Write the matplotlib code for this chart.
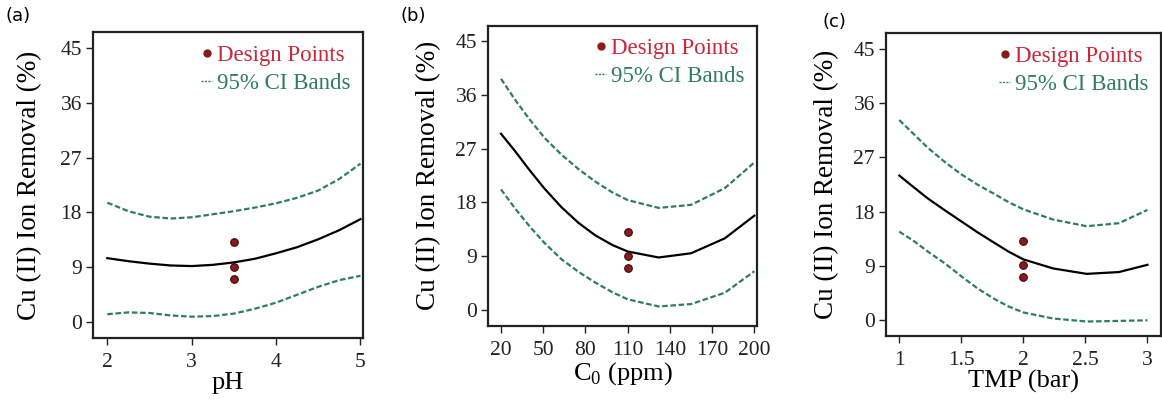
import matplotlib
matplotlib.use("Agg")
import matplotlib.pyplot as plt
from matplotlib.lines import Line2D

plt.rcParams["font.family"] = ["Liberation Serif", "DejaVu Serif"]
plt.rcParams["mathtext.fontset"] = "custom"
plt.rcParams["mathtext.rm"] = "Liberation Serif"

# -----------------------------
# Data
# -----------------------------
ph = [2, 2.25, 2.5, 2.75, 3, 3.25, 3.5, 3.75, 4, 4.25, 4.5, 4.75, 5]
ph_fit = [10.5, 10.0, 9.6, 9.3, 9.2, 9.4, 9.8, 10.4, 11.3, 12.3, 13.6, 15.1, 16.9]
ph_upper = [19.6, 18.2, 17.3, 17.0, 17.2, 17.7, 18.2, 18.8, 19.5, 20.4, 21.6, 23.5, 26.0]
ph_lower = [1.3, 1.6, 1.5, 1.1, 0.9, 1.0, 1.4, 2.2, 3.2, 4.5, 5.8, 6.9, 7.6]

c0 = [20, 30, 40, 51, 63, 75, 87, 99, 110, 132, 155, 179, 200]
c0_fit = [29.5, 26.6, 23.5, 20.3, 17.2, 14.6, 12.5, 10.9, 9.8, 8.8, 9.5, 12.0, 15.8]
c0_upper = [38.7, 35.2, 32.0, 28.8, 26.0, 23.6, 21.5, 19.7, 18.4, 17.1, 17.6, 20.4, 24.7]
c0_lower = [20.2, 17.0, 14.1, 11.2, 8.5, 6.4, 4.6, 3.0, 1.8, 0.6, 1.0, 2.9, 6.5]

tmp = [1, 1.12, 1.23, 1.37, 1.5, 1.63, 1.77, 1.88, 2.0, 2.24, 2.51, 2.77, 3.0]
tmp_fit = [24.0, 22.0, 20.2, 18.2, 16.4, 14.6, 12.8, 11.4, 10.1, 8.6, 7.7, 8.0, 9.2]
tmp_upper = [33.2, 30.8, 28.6, 26.2, 24.2, 22.5, 20.9, 19.6, 18.4, 16.7, 15.6, 16.1, 18.3]
tmp_lower = [14.7, 13.1, 11.4, 9.4, 7.3, 5.3, 3.5, 2.3, 1.3, 0.3, -0.2, -0.1, 0.0]

design_y = [13.1, 9.1, 7.1]
design_x = {"a": 3.5, "b": 110, "c": 2}

yticks = [0, 9, 18, 27, 36, 45]

panels = [
    ("(a)", ph, ph_fit, ph_upper, ph_lower, design_x["a"], "pH",
     [2, 3, 4, 5], (1.83, 5.03), [0.080, 0.155, 0.2324, 0.765]),
    ("(b)", c0, c0_fit, c0_upper, c0_lower, design_x["b"], r"C$_\mathregular{0}$ (ppm)",
     [20, 50, 80, 110, 140, 170, 200], (10.8, 201.9), [0.420, 0.186, 0.2315, 0.750]),
    ("(c)", tmp, tmp_fit, tmp_upper, tmp_lower, design_x["c"], "TMP (bar)",
     [1, 1.5, 2, 2.5, 3], (0.893, 3.11), [0.7625, 0.160, 0.2367, 0.757]),
]

red_pt = "#8b1a1a"
red_txt = "#c8283a"
green = "#2e7d5b"

fig = plt.figure(figsize=(11.62, 4), dpi=100)

for tag, x, fit, up, lo, dx, xlabel, xticks, xlim, pos in panels:
    ax = fig.add_axes(pos)
    ax.plot(x, fit, color="black", lw=1.6)
    ax.plot(x, up, color=green, lw=1.6, ls=(0, (2.5, 1.2)))
    ax.plot(x, lo, color=green, lw=1.6, ls=(0, (2.5, 1.2)))
    ax.scatter([dx] * len(design_y), design_y, s=30, color=red_pt,
               edgecolor="#3a0a0a", linewidth=0.8, zorder=3)

    ax.set_xlim(*xlim)
    ax.set_ylim(-2.6, 47.6)
    ax.set_xticks(xticks)
    ax.set_xticklabels([f"{t:g}" for t in xticks])
    ax.set_yticks(yticks)
    ax.tick_params(direction="out", length=5, width=1.0, labelsize=15.5,
                   colors="#222222")
    ax.tick_params(axis="x", pad=6)
    ax.tick_params(axis="y", pad=3)
    for s in ax.spines.values():
        s.set_linewidth(1.6)
        s.set_color("#222222")
    ax.set_xlabel(xlabel, fontsize=19, labelpad=0)
    ax.set_ylabel("Cu (II) Ion Removal (%)", fontsize=19.5,
                  labelpad=13 if tag == "(a)" else 10)

    handles = [
        Line2D([], [], marker="o", ls="none", color=red_pt, markersize=5),
        Line2D([], [], color=green, lw=1.0, ls=(0, (1.5, 1.0))),
    ]
    ax.legend(handles, ["Design Points", "95% CI Bands"], loc="upper right",
              frameon=False, fontsize=16.5, handlelength=0.5,
              handletextpad=0.2, labelspacing=0.3, borderaxespad=0.15,
              labelcolor=[red_txt, green])

    fig.text(pos[0] - 0.075 if tag != "(c)" else pos[0] - 0.055,
             0.96 if tag != "(c)" else 0.945, tag,
             fontsize=13, family="DejaVu Sans", ha="left", va="center")

fig.savefig("out.png", dpi=100)
